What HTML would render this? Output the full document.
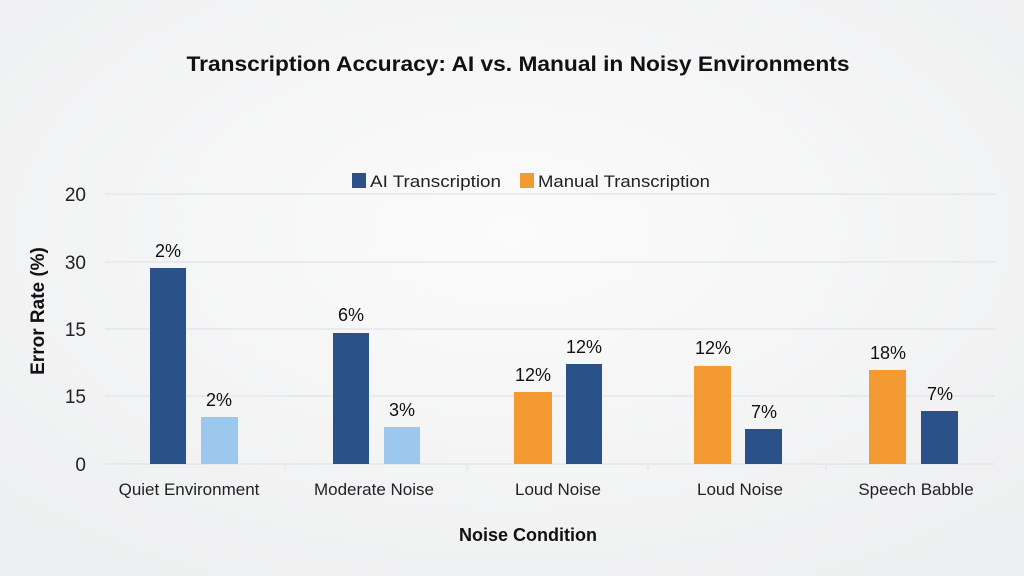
<!DOCTYPE html>
<html><head><meta charset="utf-8"><style>
html,body{margin:0;padding:0;background:#f3f4f5;}
svg{display:block;font-family:"Liberation Sans",Arial,sans-serif;}
</style></head><body>
<svg width="1024" height="576" viewBox="0 0 1024 576">
<defs><radialGradient id="bg" cx="50%" cy="40%" r="70%"><stop offset="0" stop-color="#fbfbfb"/><stop offset="1" stop-color="#eeeff0"/></radialGradient></defs>
<rect width="1024" height="576" fill="url(#bg)"/>
<text x="518" y="71" text-anchor="middle" font-size="21" font-weight="bold" fill="#111" textLength="663" lengthAdjust="spacingAndGlyphs">Transcription Accuracy: AI vs. Manual in Noisy Environments</text>
<g stroke="#e2e3e5" stroke-width="1.2">
<line x1="105" y1="194" x2="995" y2="194"/><line x1="105" y1="262" x2="995" y2="262"/><line x1="105" y1="329" x2="995" y2="329"/><line x1="105" y1="396" x2="995" y2="396"/><line x1="105" y1="464" x2="995" y2="464"/>
<line x1="285" y1="464" x2="285" y2="470"/><line x1="467" y1="464" x2="467" y2="470"/><line x1="648" y1="464" x2="648" y2="470"/><line x1="826" y1="464" x2="826" y2="470"/>
</g>
<rect x="352" y="173" width="14" height="15" fill="#2a5288"/>
<text x="370" y="187" font-size="17" fill="#222" textLength="131" lengthAdjust="spacingAndGlyphs">AI Transcription</text>
<rect x="520" y="173" width="14" height="15" fill="#f39a32"/>
<text x="538" y="187" font-size="17" fill="#222" textLength="172" lengthAdjust="spacingAndGlyphs">Manual Transcription</text>
<g font-size="19" fill="#222" text-anchor="end">
<text x="86" y="201">20</text><text x="86" y="269">30</text><text x="86" y="336">15</text><text x="86" y="403">15</text><text x="86" y="471">0</text>
</g>
<text transform="translate(44,311) rotate(-90)" text-anchor="middle" font-size="19" font-weight="bold" fill="#111">Error Rate (%)</text>
<rect x="150" y="268" width="36" height="196" fill="#2a5288"/>
<rect x="201" y="417" width="37" height="47" fill="#9dc8ee"/>
<rect x="333" y="333" width="36" height="131" fill="#2a5288"/>
<rect x="384" y="427" width="36" height="37" fill="#9dc8ee"/>
<rect x="514" y="392" width="38" height="72" fill="#f39a32"/>
<rect x="566" y="364" width="36" height="100" fill="#2a5288"/>
<rect x="694" y="366" width="37" height="98" fill="#f39a32"/>
<rect x="745" y="429" width="37" height="35" fill="#2a5288"/>
<rect x="869" y="370" width="37" height="94" fill="#f39a32"/>
<rect x="921" y="411" width="37" height="53" fill="#2a5288"/>
<g font-size="18" fill="#111" text-anchor="middle">
<text x="168" y="257">2%</text><text x="219" y="406">2%</text>
<text x="351" y="321">6%</text><text x="402" y="416">3%</text>
<text x="533" y="381">12%</text><text x="584" y="353">12%</text>
<text x="713" y="354">12%</text><text x="764" y="418">7%</text>
<text x="888" y="359">18%</text><text x="940" y="400">7%</text>
</g>
<g font-size="17" fill="#222" text-anchor="middle">
<text x="189" y="495">Quiet Environment</text><text x="374" y="495">Moderate Noise</text><text x="558" y="495">Loud Noise</text><text x="740" y="495">Loud Noise</text><text x="916" y="495">Speech Babble</text>
</g>
<text x="528" y="541" text-anchor="middle" font-size="18" font-weight="bold" fill="#111">Noise Condition</text>
</svg>
</body></html>
